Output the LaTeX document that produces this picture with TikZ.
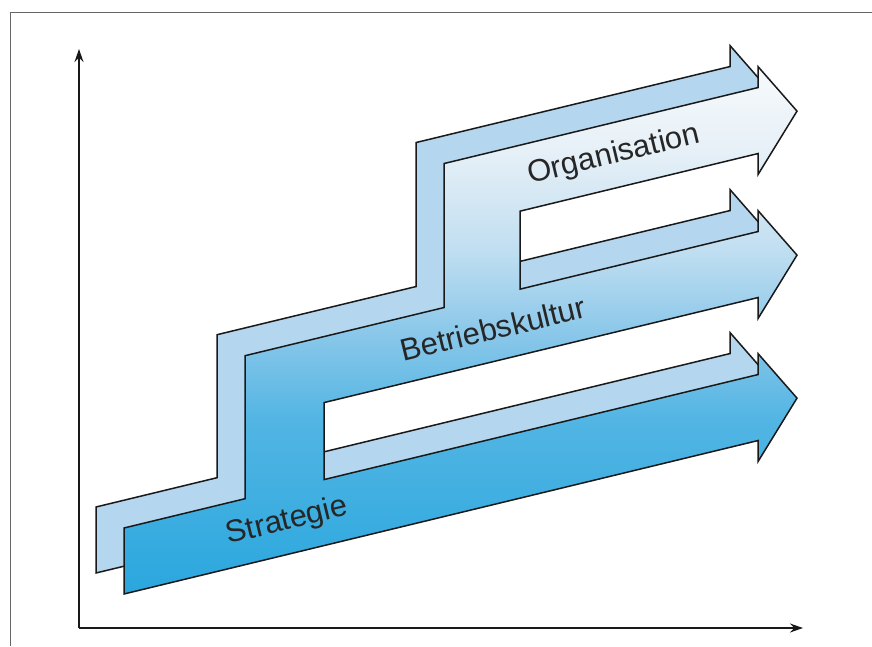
\documentclass[tikz,border=0pt]{standalone}
\usepackage{fontspec}
\setmainfont{Liberation Sans}
\usetikzlibrary{arrows.meta}
\definecolor{backblue}{HTML}{B4D6EE}
\definecolor{deepblue}{HTML}{2AA7DE}
\definecolor{lowblue}{HTML}{52B5E3}
\definecolor{midblue}{HTML}{8CC8EA}
\definecolor{lightblue}{HTML}{C0DEF1}
\definecolor{paleblue}{HTML}{E6F0F7}
\definecolor{whiteblue}{HTML}{F7FAFC}
\pgfdeclareverticalshading{bandshade}{100bp}{color(0bp)=(deepblue); color(25bp)=(deepblue);
  color(41.5bp)=(lowblue); color(50bp)=(midblue); color(57.5bp)=(lightblue);
  color(67bp)=(paleblue); color(75bp)=(whiteblue); color(100bp)=(whiteblue)}
\tikzset{
  outline/.style={draw=black!90, line width=1.5pt},
  backband/.style={outline, fill=backblue},
  frontband/.style={outline, shade, shading=bandshade},
  bandlabel/.style={rotate=13.6, font=\fontsize{31}{36}\selectfont, text=black!85},
  axisline/.style={line width=1.4pt, draw=black!90, -{Stealth[length=13pt,width=9pt]}},
  framerule/.style={draw=black!60, line width=0.8pt}
}
% three bands with steps, in slanted coordinates
\newcommand{\bandpath}{(124,22) -- (758,22) -- (758,1) -- (797,55) -- (758,109) -- (758,88)
  -- (324,88) -- (324,165) -- (758,165) -- (758,144) -- (797,198) -- (758,252) -- (758,231)
  -- (520,231) -- (520,309) -- (758,309) -- (758,288) -- (797,342) -- (758,396) -- (758,375)
  -- (444,375) -- (444,231) -- (245,231) -- (245,88) -- (124,88) -- cycle}

\begin{document}
\begin{tikzpicture}[x=1pt, y=1pt]
  \useasboundingbox (0,0) rectangle (872,646);
  % frame
  \coordinate (frameright) at (872,634);
  \coordinate (framecorner) at (10,634);
  \coordinate (framebottom) at (10,0);
  \draw[framerule] (frameright) -- (framecorner) -- (framebottom);
  % axes
  \coordinate (origin) at (79,18);
  \coordinate (ytip) at (79,597);
  \coordinate (xtip) at (803,18);
  \draw[axisline] (origin) -- (ytip);
  \draw[axisline] (origin) -- (xtip);
  % shadow copy
  \begin{scope}[xshift=-28pt, yshift=21pt, yslant=0.242]
    \draw[backband] \bandpath;
  \end{scope}
  \begin{scope}[yslant=0.242]
    \draw[frontband] \bandpath;
    \node[bandlabel] (strategie) at (287,55) {Strategie};
    \node[bandlabel] (kultur) at (493,198) {Betriebskultur};
    \node[bandlabel] (organisation) at (614,342) {Organisation};
  \end{scope}
\end{tikzpicture}
\end{document}
